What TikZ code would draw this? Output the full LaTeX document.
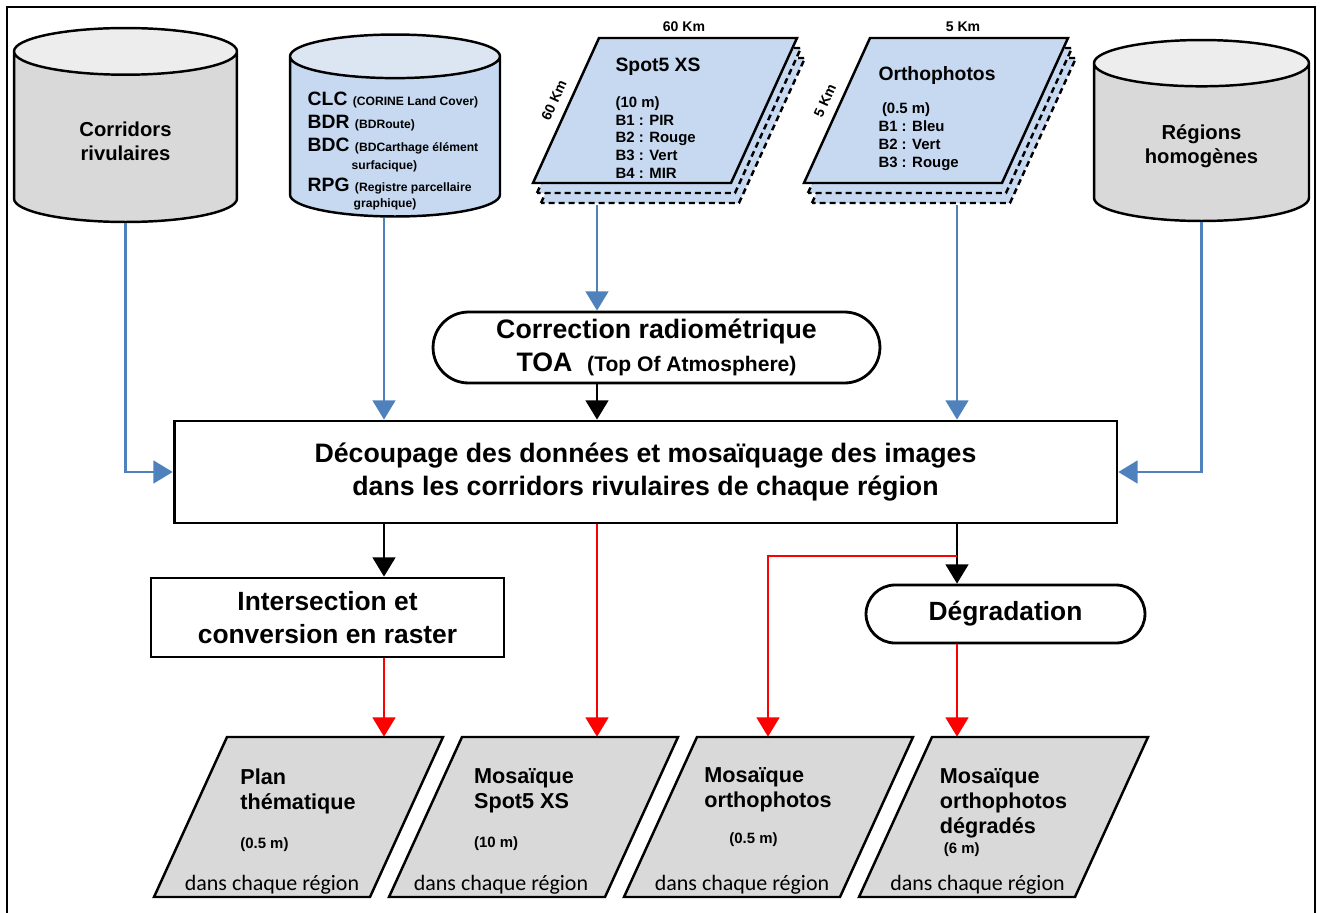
\documentclass[tikz,border=0pt]{standalone}
\usepackage{fontspec}
\setmainfont{Liberation Sans}
\newfontfamily\carlito{Carlito}
\usetikzlibrary{shapes.geometric,arrows.meta,calc}
\definecolor{cylgray}{HTML}{D9D9D9}
\definecolor{cyltop}{HTML}{EDEDED}
\definecolor{scenefill}{HTML}{C6D9F1}
\definecolor{scenetop}{HTML}{DCE6F2}
\definecolor{linkblue}{HTML}{4F81BD}
\newcommand{\fs}[2]{\fontsize{#1}{#2}\selectfont}
\newcommand{\dbkey}[2]{{\fs{11}{13}#1} {\fs{6.9}{8}#2}}

\begin{document}
\begin{tikzpicture}[x=0.02cm, y=-0.02cm,
  font=\bfseries,
  cyl/.style={cylinder, shape border rotate=90, draw, line width=1.4pt, cylinder uses custom fill,
              cylinder body fill=cylgray, cylinder end fill=cyltop, align=center, anchor=shape center,
              font=\fs{11.5}{13.5}\bfseries},
  sceneshape/.style={draw, line width=1.4pt, fill=scenefill},
  scenecopy/.style={sceneshape, dash pattern=on 3.4pt off 2.3pt},
  scenetxt/.style={align=left, inner sep=1pt, font=\fs{8.5}{10.2}\bfseries},
  resshape/.style={draw, line width=1.4pt, fill=cylgray},
  restxt/.style={align=left, minimum height=3.2cm, text depth=10pt, font=\fs{12.3}{14.2}\bfseries},
  dans/.style={font=\carlito\fs{12.5}{14}, anchor=south, inner sep=1.5pt, xshift=-0.52cm},
  box/.style={draw, line width=1.6pt, align=center, font=\fs{15.2}{18.5}\bfseries},
  pill/.style={box, rounded corners=#1},
  km/.style={font=\fs{8}{9.6}\bfseries, inner sep=1pt},
  flow/.style={-{Triangle[length=11pt,width=13pt]}, line width=1.3pt},
  bflow/.style={flow, color=linkblue},
  rflow/.style={flow, color=red}]
\useasboundingbox (0,0) rectangle (1323,913);
\draw[line width=1.2pt] (7,913) -- (7,7) -- (1315,7) -- (1315,913);

% sources
\node[cyl, minimum width=4.46cm, minimum height=3.88cm, aspect=0.45] (corri) at (125.5,125) {Corridors\\rivulaires};
\node[cyl, minimum width=4.2cm, minimum height=3.64cm, aspect=0.24, cylinder body fill=scenefill,
      cylinder end fill=scenetop] (bdd) at (395,125.5) {\hspace*{3.4cm}};
\node[align=left, inner sep=1pt, font=\fs{11}{13.3}\bfseries] (bddtxt) at (393,151)
  {\dbkey{CLC}{(CORINE Land Cover)}\\
   \dbkey{BDR}{(BDRoute)}\\
   \dbkey{BDC}{(BDCarthage élément}\\[-3pt]
   \hspace*{0.88cm}{\fs{6.9}{8}surfacique)}\\[-1pt]
   \dbkey{RPG}{(Registre parcellaire}\\[-4pt]
   \hspace*{0.92cm}{\fs{6.9}{8}graphique)}};
\node[cyl, minimum width=4.3cm, minimum height=3.62cm, aspect=0.37] (regions) at (1201.5,130.5) {Régions\\homogènes};

\foreach \k in {2,1}
  \filldraw[scenecopy, shift={(4*\k,10*\k)}] (533,183) -- (599,38) -- (797,38) -- (731,183) -- cycle;
\filldraw[sceneshape] (533,183) -- (599,38) -- (797,38) -- (731,183) -- cycle;
\foreach \k in {2,1}
  \filldraw[scenecopy, shift={(4*\k,10*\k)}] (804,183) -- (870,38) -- (1068,38) -- (1002,183) -- cycle;
\filldraw[sceneshape] (804,183) -- (870,38) -- (1068,38) -- (1002,183) -- cycle;
\node[scenetxt] (spot) at (658,118.5)
  {{\fs{11}{13}Spot5 XS}\\[10pt](10 m)\\B1 : PIR\\B2 : Rouge\\B3 : Vert\\B4 : MIR};
\node[scenetxt] (ortho) at (937,118.5)
  {{\fs{11}{13}Orthophotos}\\[9pt]\hspace*{2pt}(0.5 m)\\B1 : Bleu\\B2 : Vert\\B3 : Rouge};
\node[km] (spottop) at (684,27) {60 Km};
\node[km, rotate=65.5] (spotside) at (554,100) {60 Km};
\node[km] (orthotop) at (963,27) {5 Km};
\node[km, rotate=65.5] (orthoside) at (825,101) {5 Km};
\coordinate (spotfoot) at (597,205);
\coordinate (orthofoot) at (957,205);

% traitements
\node[pill=0.71cm, minimum width=8.94cm, minimum height=1.42cm] (toa) at (656.5,347.5)
  {Correction radiométrique\\TOA\ \ {\fs{12}{14}(Top Of Atmosphere)}};
\node[box, minimum width=18.86cm, minimum height=2.04cm] (decoup) at (645.5,472)
  {Découpage des données et mosaïquage des images\\dans les corridors rivulaires de chaque région};
\node[box, font=\fs{15}{18.5}\bfseries, minimum width=7.06cm, minimum height=1.58cm] (inter) at (327.5,617.5)
  {Intersection et\\conversion en raster};
\node[pill=0.58cm, font=\fs{15}{18.5}\bfseries, minimum width=5.58cm, minimum height=1.16cm] (degr) at (1005.5,614)
  {Dégradation};

% résultats
\foreach \x in {154,389,624,859}
  \filldraw[resshape] (\x,897) -- ++(73,-160) -- ++(216,0) -- ++(-73,160) -- cycle;
\node[restxt, label={[dans]south:dans chaque région}] (plan) at (298,817)
  {Plan\\thématique\\[8pt]{\fs{8.5}{10}(0.5 m)}};
\node[restxt, label={[dans, xshift=0.06cm]south:dans chaque région}] (mspot) at (524,817)
  {Mosaïque\\Spot5 XS\\[8pt]{\fs{8.5}{10}(10 m)}};
\node[restxt, text depth=13pt, label={[dans]south:dans chaque région}] (mortho) at (768,817)
  {Mosaïque\\orthophotos\\[6pt]{\fs{8.5}{10}\hspace*{0.5cm}(0.5 m)}};
\node[restxt, text depth=6.6pt, label={[dans]south:dans chaque région}] (mdeg) at (1003.5,817)
  {Mosaïque\\orthophotos\\dégradés\\[-3pt]{\fs{8.5}{10}\hspace*{0.08cm}(6 m)}};

% colonnes des flèches
\coordinate (colA) at (384,0);
\coordinate (colS) at (597,0);
\coordinate (colM) at (768,0);
\coordinate (colO) at (957,0);
\coordinate (split) at (957,556);

\draw[bflow] (corri.south) |- (decoup.west);
\draw[bflow] (colA |- bdd.south) -- (colA |- decoup.north);
\draw[bflow] (spotfoot) -- (colS |- toa.north);
\draw[bflow] (orthofoot) -- (colO |- decoup.north);
\draw[bflow] (regions.south) |- (decoup.east);
\draw[flow] (colS |- toa.south) -- (colS |- decoup.north);
\draw[flow] (colA |- decoup.south) -- (colA |- inter.north);
\draw[flow] (colO |- decoup.south) -- (colO |- degr.north);
\draw[rflow] (colA |- inter.south) -- (colA |- plan.north);
\draw[rflow] (colS |- decoup.south) -- (colS |- mspot.north);
\draw[rflow] (split) -| (colM |- mortho.north);
\draw[rflow] (colO |- degr.south) -- (colO |- mdeg.north);
\end{tikzpicture}
\end{document}
